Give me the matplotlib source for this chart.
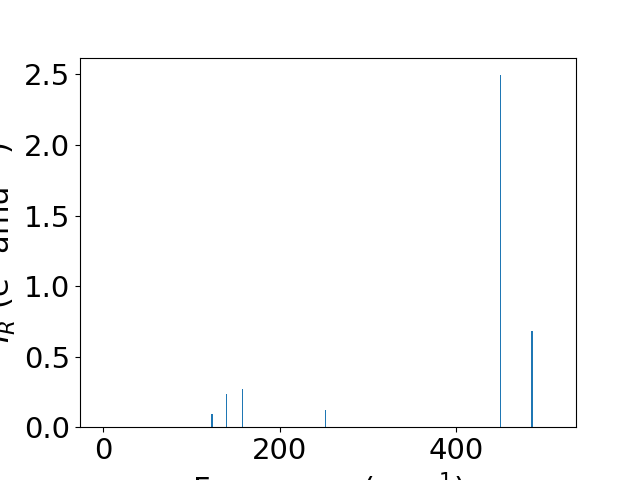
import matplotlib
matplotlib.use('Agg')
import matplotlib.pyplot as plt

# vibrational modes and Raman-like intensities
freqs = [0.0, 123.2, 139.8, 157.9, 252.0, 450.0, 485.5, 509.0]
intensities = [0.0, 0.095, 0.237, 0.272, 0.123, 2.495, 0.68, 0.0]

plt.rcParams['xtick.labelsize'] = 21
plt.rcParams['ytick.labelsize'] = 21
plt.rcParams['axes.labelsize'] = 22

fig, ax = plt.subplots(figsize=(6.4, 4.8), dpi=100)
ax.bar(freqs, intensities, width=1.6)
ax.set_xlabel('Frequency (cm$^{-1}$)')
ax.set_ylabel('$I_R$ (e$^2$ amu$^{-1}$)')

fig.savefig('out.png')
